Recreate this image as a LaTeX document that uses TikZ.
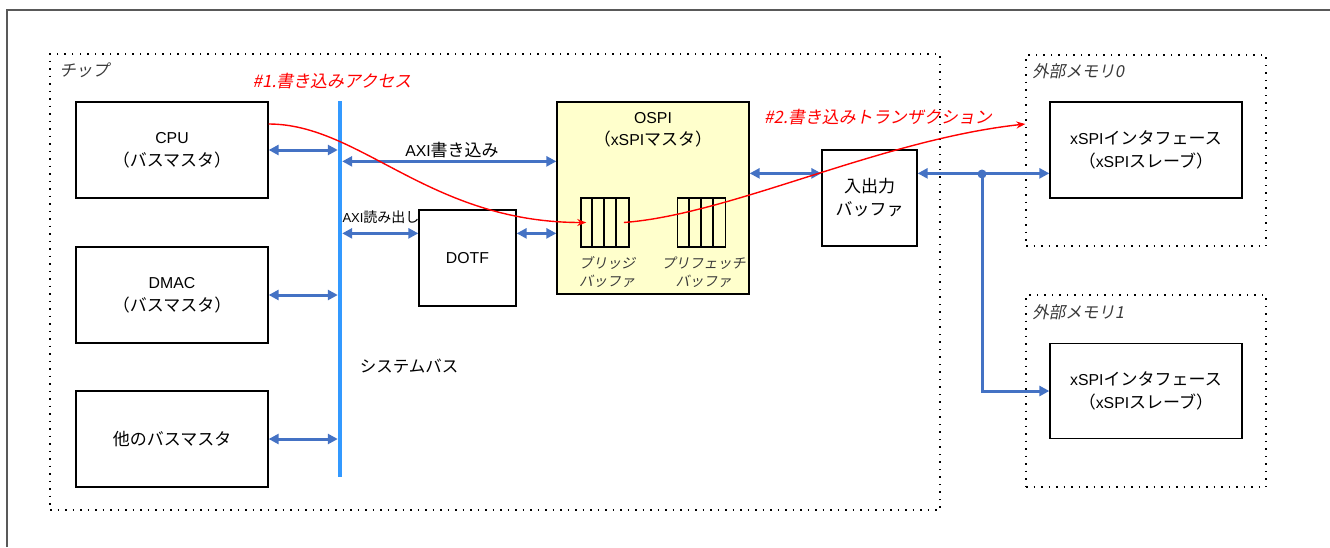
\documentclass[tikz,border=0pt]{standalone}
\usepackage{xcolor}
\usepackage{fontspec}
\setmainfont{Noto Sans CJK JP}
\newfontfamily\latfont{Liberation Sans}[Scale=0.93]
\newfontfamily\slantfont{Noto Sans CJK JP}[FakeSlant=0.2]
\newcommand\en[1]{{\latfont #1}}
\usepackage{tikz}
\usetikzlibrary{positioning, arrows.meta}
\definecolor{linkblue}{HTML}{4472C4}
\definecolor{busblue}{HTML}{3399FF}
\definecolor{ospiyellow}{HTML}{FFFFCC}
\definecolor{framegray}{HTML}{595959}
\definecolor{notegray}{HTML}{3A3A3A}

\tikzset{
  block/.style={draw=black, line width=1.3pt, minimum width=192pt, minimum height=96pt,
                inner sep=0pt, align=center, font=\fontsize{17}{23}\selectfont},
  region/.style={draw=black, line width=1.5pt, dash pattern=on 1.5pt off 6pt, inner sep=0pt},
  link/.style={draw=linkblue, line width=3pt,
               {Triangle[length=10pt,width=10pt]}-{Triangle[length=10pt,width=10pt]}},
  feed/.style={draw=linkblue, line width=3pt, -{Triangle[length=10pt,width=10pt]}},
  flow/.style={draw=red, line width=1.4pt, -{Stealth[length=9pt,width=7pt]}},
  tag/.style={font=\slantfont\fontsize{16.5}{18}\selectfont, text=notegray, inner sep=0pt},
  flowtag/.style={font=\slantfont\fontsize{17}{18}\selectfont, text=red, inner sep=0pt},
  cellrow/.style={draw=black, line width=1.6pt, minimum width=48pt, minimum height=49pt, inner sep=0pt},
  bufnote/.style={font=\slantfont\fontsize{14}{18}\selectfont, text=notegray, align=center, inner sep=0pt}
}

\begin{document}
\begin{tikzpicture}[x=1pt, y=-1pt]
  \useasboundingbox (0,0) rectangle (1330,547);
  \draw[framegray, line width=1.5pt] (7,547) -- (7,10) -- (1330,10);

  % regions
  \node[region, minimum width=890pt, minimum height=456pt] (chip) at (495,282) {};
  \node[region, minimum width=240pt, minimum height=191pt] (memA) at (1146,150.5) {};
  \node[region, minimum width=240pt, minimum height=192pt] (memB) at (1146,391) {};
  \node[tag, anchor=west] (chiptag) at ([xshift=10pt, yshift=-17pt]chip.north west) {チップ};
  \node[tag, anchor=west] (memAtag) at ([xshift=7pt, yshift=-17pt]memA.north west) {外部メモリ0};
  \node[tag, anchor=west] (memBtag) at ([xshift=7pt, yshift=-18pt]memB.north west) {外部メモリ1};

  % bus masters
  \node[block] (cpu) at (172,150) {\en{CPU}\\（バスマスタ）};
  \node[block] (dmac) at (172,295) {\en{DMAC}\\（バスマスタ）};
  \node[block] (others) at (172,439) {他のバスマスタ};
  \node[fill=busblue, minimum width=4pt, minimum height=376pt, inner sep=0pt] (bus) at (340,289) {};
  \node[font=\fontsize{16.5}{18}\selectfont] (bustag) at (409,366) {システムバス};

  % controller side
  \node[block, minimum width=97pt] (dotf) at (467.5,258) {\en{DOTF}};
  \node[block, minimum height=192pt, fill=ospiyellow] (ospi) at (653,198) {};
  \node[align=center, font=\fontsize{17}{22}\selectfont] (ospitag) at ([yshift=-28pt]ospi.north) {\en{OSPI}\\（\en{xSPI}マスタ）};
  \node[cellrow] (bridge) at (605,222.5) {};
  \node[cellrow] (prefetch) at (701.5,222.5) {};
  \foreach \i in {1,2,3} {
    \draw[line width=1.6pt] ([xshift=\i*12pt]bridge.north west) -- ([xshift=\i*12pt]bridge.south west);
    \draw[line width=1.6pt] ([xshift=\i*12pt]prefetch.north west) -- ([xshift=\i*12pt]prefetch.south west);
  }
  \node[bufnote] (bridgetag) at ([yshift=-24pt, xshift=2pt]bridge.south) {ブリッジ\\バッファ};
  \node[bufnote] (prefetchtag) at ([yshift=-24pt, xshift=2pt]prefetch.south) {プリフェッチ\\バッファ};
  \node[block, minimum width=95pt] (iobuf) at (869.5,198) {入出力\\バッファ};
  \node[block] (xspia) at (1146,150) {\en{xSPI}インタフェース\\（\en{xSPI}スレーブ）};
  \node[block, minimum height=95pt] (xspib) at (1146,391) {\en{xSPI}インタフェース\\（\en{xSPI}スレーブ）};

  % connections
  \coordinate (axiw) at ([yshift=-60pt]ospi.north west);
  \coordinate (axir) at ([yshift=-24pt]dotf.north west);
  \coordinate (ioline) at ([yshift=-24pt]iobuf.north west);
  \coordinate (tap) at (982,174);
  \draw[link] (cpu.east) -- (cpu.east -| bus.west);
  \draw[link] (dmac.east) -- (dmac.east -| bus.west);
  \draw[link] (others.east) -- (others.east -| bus.west);
  \draw[link] (bus.east |- axiw) -- (axiw);
  \draw[link] (bus.east |- axir) -- (axir);
  \draw[link] (axir -| dotf.east) -- (axir -| ospi.west);
  \draw[link] (ioline -| ospi.east) -- (ioline);
  \draw[link] (ioline -| iobuf.east) -- (ioline -| xspia.west);
  \fill[linkblue] (tap) circle (4.5pt);
  \draw[feed] (tap) |- (xspib.west);
  \node[font=\fontsize{17}{18}\selectfont] (axiwtag) at (452,150) {\en{AXI}書き込み};
  \node[font=\fontsize{14}{16}\selectfont] (axirtag) at (381,217) {\en{AXI}読み出し};

  % write path
  \draw[flow] ([yshift=26pt]cpu.east) .. controls +(92,0) and +(-157,0) .. ([xshift=6pt]bridge.west);
  \draw[flow] ([xshift=-6pt]bridge.east) .. controls +(107,-8) and +(-146,16) .. ([xshift=-24pt, yshift=26pt]xspia.west);
  \node[flowtag] (writetag) at (332,81) {\#1.書き込みアクセス};
  \node[flowtag] (transtag) at (878,117) {\#2.書き込みトランザクション};
\end{tikzpicture}
\end{document}
